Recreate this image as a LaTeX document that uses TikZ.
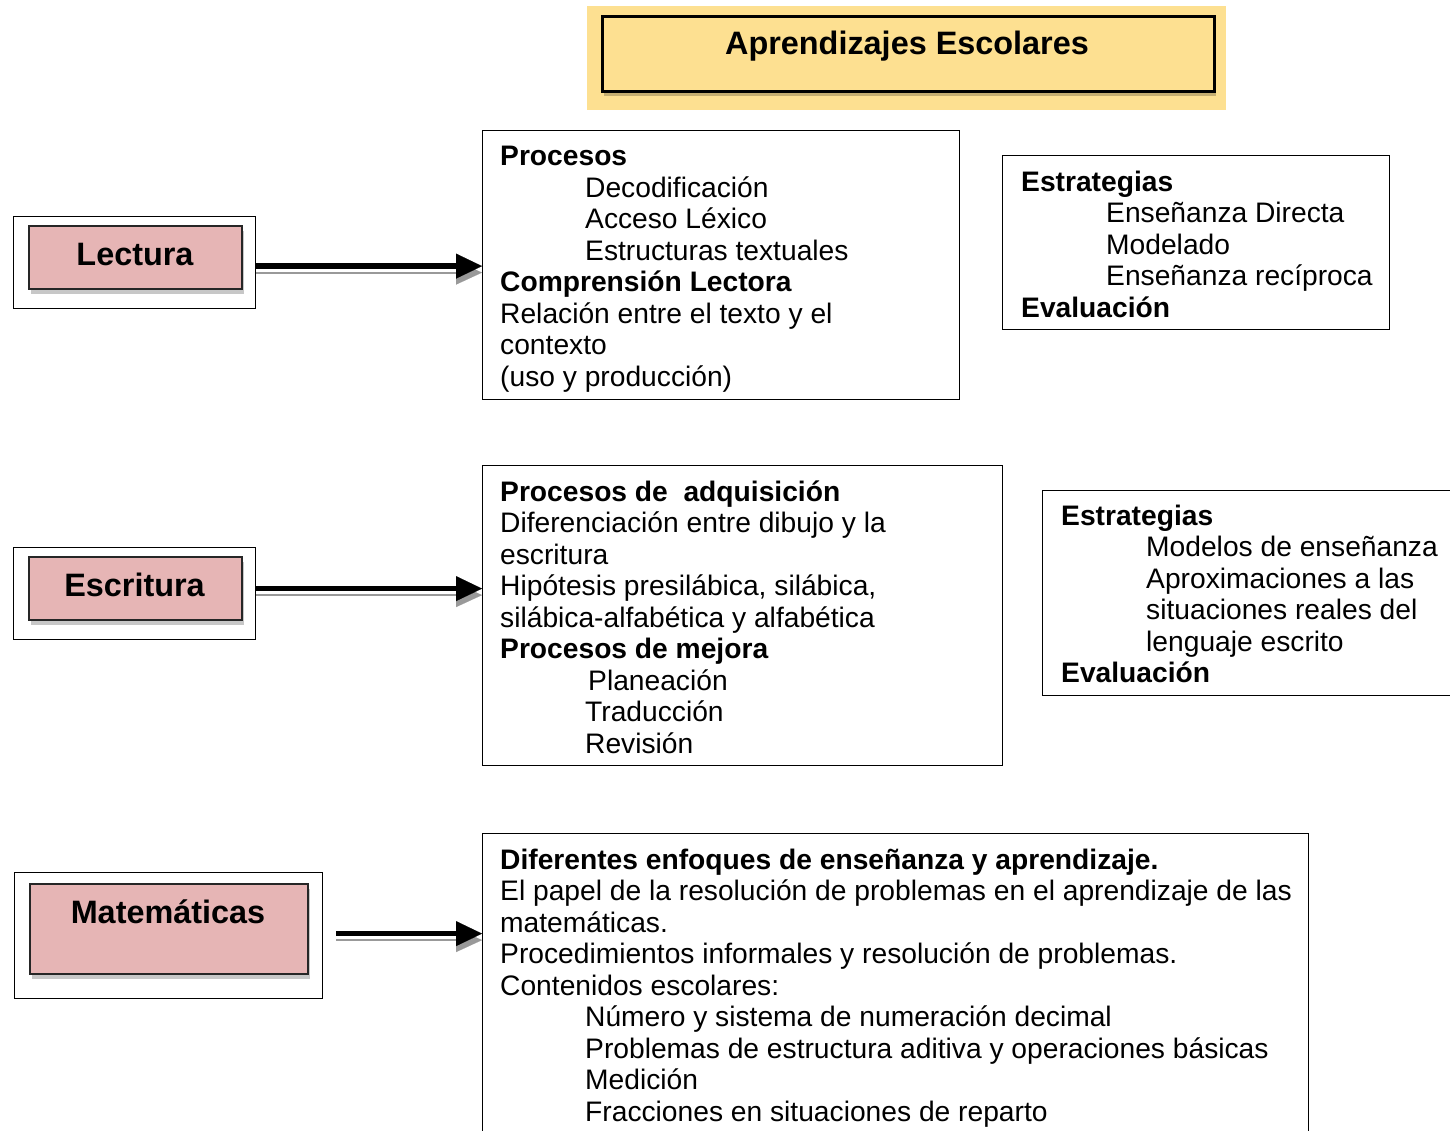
\documentclass[tikz,border=0pt]{standalone}
\usepackage{fontspec}
\setmainfont{Liberation Sans}
\usetikzlibrary{arrows.meta,shadows}
\definecolor{titleyellow}{RGB}{253,224,145}
\definecolor{labelpink}{RGB}{230,181,181}
\newcommand\indl{\kern85pt}
\newcommand\boxlines[1]{\vtop{\lineskiplimit=-100pt\relax #1}}
\tikzset{
  textbox/.style={draw=black, line width=1.3pt, fill=white, anchor=north west, inner sep=0pt},
  outerbox/.style={draw=black, line width=1.2pt, fill=white, anchor=north west, inner sep=0pt},
  pinkbox/.style={draw=black!85, line width=1.6pt, fill=labelpink, anchor=north west, inner sep=0pt,
    drop shadow={shadow xshift=2pt, shadow yshift=-5pt, opacity=0.22, fill=black}},
  bodytext/.style={anchor=base west, inner sep=0pt, font=\fontsize{28.2pt}{31.5pt}\selectfont},
  labeltext/.style={anchor=base, inner sep=0pt, font=\fontsize{32.4pt}{36pt}\selectfont\bfseries},
  fatarrow/.style={draw=black, line width=5.5pt, -{Triangle[length=26pt,width=25pt,line width=0.1pt]}},
  fatshadow/.style={draw=black!40, fill=black!40, line width=2pt, -{Triangle[length=26pt,width=24pt,line width=0.1pt]}}
}
\begin{document}
\begin{tikzpicture}[x=1pt,y=-1pt]
\useasboundingbox (0,0) rectangle (1450,1130);
\clip (0,0) rectangle (1450,1130);

% ---------- title ----------
\node[fill=titleyellow, anchor=north west, inner sep=0pt, minimum width=639pt, minimum height=104pt] (titlebg) at (587,6) {};
\node[draw=black, line width=2.5pt, fill=titleyellow, anchor=north west, inner sep=0pt,
      minimum width=612pt, minimum height=75pt,
      drop shadow={shadow xshift=2pt, shadow yshift=-5pt, opacity=0.22, fill=black}] (titlebox) at (601,15) {};
\node[labeltext] (titletext) at (907,54) {Aprendizajes Escolares};

% ---------- Lectura ----------
\node[outerbox, minimum width=242pt, minimum height=92pt] (Lout) at (13,216) {};
\node[pinkbox, minimum width=213pt, minimum height=63pt] (Lin) at (28,225) {};
\node[labeltext] (Ltext) at (135,265) {Lectura};

\node[textbox, minimum width=477pt, minimum height=269pt] (lecbox) at (482,130) {};
\node[bodytext] (lectext) at (500,165.5) {\boxlines{%
  \hbox{\bfseries Procesos}
  \hbox{\indl Decodificación}
  \hbox{\indl Acceso Léxico}
  \hbox{\indl Estructuras textuales}
  \hbox{\bfseries Comprensión Lectora}
  \hbox{Relación entre el texto y el}
  \hbox{contexto}
  \hbox{(uso y producción)}}};

\node[textbox, minimum width=387pt, minimum height=174pt] (lecest) at (1002,155) {};
\node[bodytext] (lecesttext) at (1021,191) {\boxlines{%
  \hbox{\bfseries Estrategias}
  \hbox{\indl Enseñanza Directa}
  \hbox{\indl Modelado}
  \hbox{\indl Enseñanza recíproca}
  \hbox{\bfseries Evaluación}}};

% ---------- Escritura ----------
\node[outerbox, minimum width=242pt, minimum height=92pt] (Eout) at (13,547) {};
\node[pinkbox, minimum width=213pt, minimum height=63pt] (Ein) at (28,556) {};
\node[labeltext] (Etext) at (134.5,596) {Escritura};

\node[textbox, minimum width=520pt, minimum height=300pt] (escbox) at (482,465) {};
\node[bodytext] (esctext) at (500,501) {\boxlines{%
  \hbox{\bfseries Procesos de\ \ adquisición}
  \hbox{Diferenciación entre dibujo y la}
  \hbox{escritura}
  \hbox{Hipótesis presilábica, silábica,}
  \hbox{silábica-alfabética y alfabética}
  \hbox{\bfseries Procesos de mejora}
  \hbox{\kern88pt Planeación}
  \hbox{\indl Traducción}
  \hbox{\indl Revisión}}};

\node[textbox, minimum width=420pt, minimum height=205pt] (escest) at (1042,490) {};
\node[bodytext] (escesttext) at (1061,525) {\boxlines{%
  \hbox{\bfseries Estrategias}
  \hbox{\indl Modelos de enseñanza}
  \hbox{\indl Aproximaciones a las}
  \hbox{\indl situaciones reales del}
  \hbox{\indl lenguaje escrito}
  \hbox{\bfseries Evaluación}}};

% ---------- Matematicas ----------
\node[outerbox, minimum width=308pt, minimum height=126pt] (Mout) at (14,872) {};
\node[pinkbox, minimum width=278pt, minimum height=90pt] (Min) at (29,883) {};
\node[labeltext] (Mtext) at (168,923.5) {Matemáticas};

\node[textbox, minimum width=826pt, minimum height=320pt] (matbox) at (482,833) {};
\node[bodytext] (mattext) at (500,869) {\boxlines{%
  \hbox{\bfseries Diferentes enfoques de enseñanza y aprendizaje.}
  \hbox{El papel de la resolución de problemas en el aprendizaje de las}
  \hbox{matemáticas.}
  \hbox{Procedimientos informales y resolución de problemas.}
  \hbox{Contenidos escolares:}
  \hbox{\indl Número y sistema de numeración decimal}
  \hbox{\indl Problemas de estructura aditiva y operaciones básicas}
  \hbox{\indl Medición}
  \hbox{\indl Fracciones en situaciones de reparto}}};

% ---------- arrows ----------
\draw[fatshadow] ([yshift=-10pt]Lout.east) -- ([yshift=-10pt]Lout.east -| lecbox.west);
\draw[fatarrow]  ([yshift=-3.5pt]Lout.east) -- ([yshift=-3.5pt]Lout.east -| lecbox.west);

\draw[fatshadow] ([yshift=-1.5pt]Eout.east) -- ([yshift=-1.5pt]Eout.east -| escbox.west);
\draw[fatarrow]  ([yshift=5pt]Eout.east) -- ([yshift=5pt]Eout.east -| escbox.west);

\draw[fatshadow] ([xshift=13pt,yshift=-4.5pt]Mout.east) -- ([yshift=-4.5pt]Mout.east -| matbox.west);
\draw[fatarrow]  ([xshift=13pt,yshift=2pt]Mout.east) -- ([yshift=2pt]Mout.east -| matbox.west);
\end{tikzpicture}
\end{document}
